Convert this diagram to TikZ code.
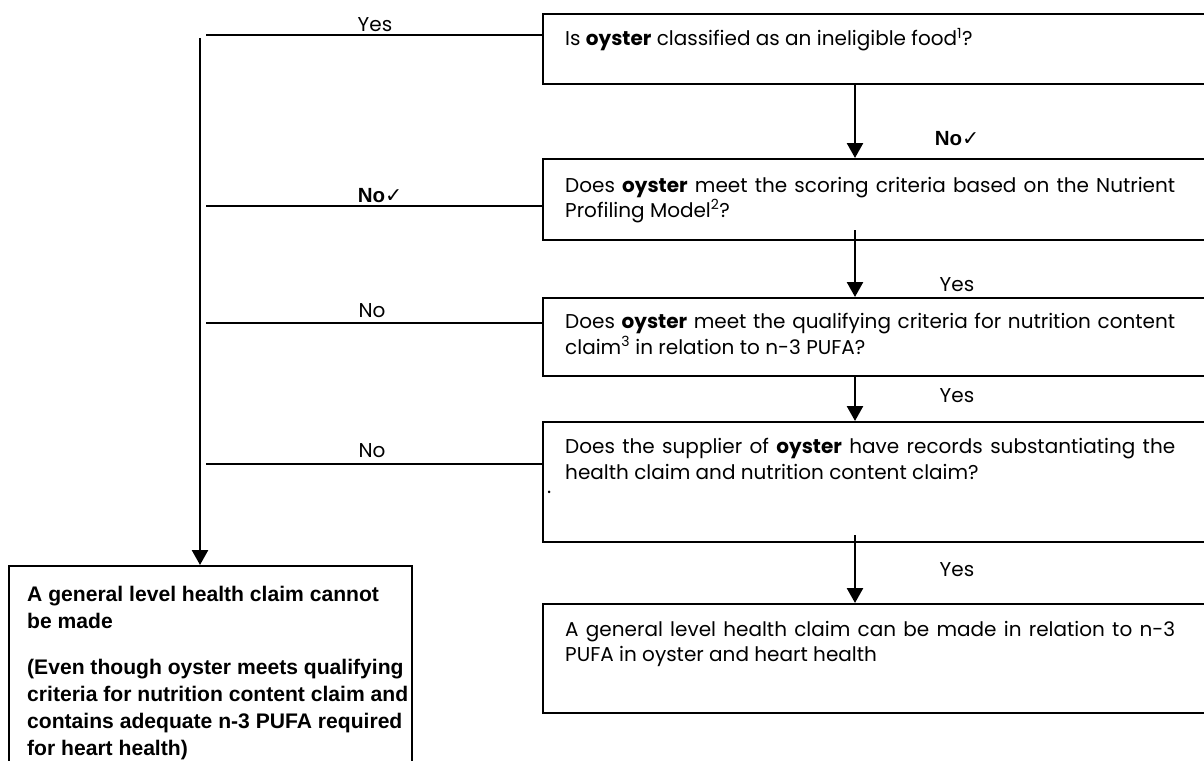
\documentclass[tikz,border=0pt]{standalone}
\usepackage{fontspec}
\setmainfont{Liberation Sans}
\newfontfamily\gothicfont{Poppins}
\newfontfamily\tickfont{DejaVu Sans}
\usetikzlibrary{arrows.meta}
\newcommand\tick{{\tickfont\char"2713}}
% first lines of the question texts are set justified to the text width
\newcommand\fullline[1]{\makebox[610bp][s]{#1}}
\begin{document}
\begin{tikzpicture}[x=1bp,y=-1bp,
  box/.style={draw,line width=1.9bp,anchor=north west,inner sep=0pt},
  link/.style={line width=1.6bp},
  flow/.style={line width=2.6bp,-{Triangle[length=15bp,width=16bp]}},
  qtext/.style={anchor=base west,inner sep=0pt,font=\gothicfont\fontsize{20bp}{24bp}\selectfont},
  lbl/.style={anchor=base,inner sep=0pt,font=\gothicfont\fontsize{20bp}{24bp}\selectfont},
  blbl/.style={anchor=base,inner sep=0pt,font=\bfseries\fontsize{20.5bp}{24bp}\selectfont},
  rtext/.style={anchor=base west,inner sep=0pt,font=\bfseries\fontsize{21.1bp}{27bp}\selectfont}]

\useasboundingbox (0,0) rectangle (1204,761);

% question boxes (right column runs past the page edge)
\node[box,minimum width=664bp,minimum height=70bp]  (q1) at (542,13)  {};
\node[box,minimum width=664bp,minimum height=81bp]  (q2) at (542,158) {};
\node[box,minimum width=664bp,minimum height=78bp]  (q3) at (542,297) {};
\node[box,minimum width=664bp,minimum height=120bp] (q4) at (542,421) {};
\node[box,minimum width=664bp,minimum height=109bp] (ok) at (542,603) {};
\node[box,minimum width=403bp,minimum height=210bp] (no) at (8,565)   {};

% box texts
\node[qtext] (q1a) at (565,46)  {Is \textbf{oyster} classified as an ineligible food\textsuperscript{1}?};
\node[qtext] (q2a) at (565,192) {\fullline{Does \textbf{oyster} meet the scoring criteria based on the Nutrient}};
\node[qtext] (q2b) at (565,217) {Profiling Model\textsuperscript{2}?};
\node[qtext] (q3a) at (565,328) {\fullline{Does \textbf{oyster} meet the qualifying criteria for nutrition content}};
\node[qtext] (q3b) at (565,354) {claim\textsuperscript{3} in relation to n-3 PUFA?};
\node[qtext] (q4a) at (565,453) {\fullline{Does the supplier of \textbf{oyster} have records substantiating the}};
\node[qtext] (q4b) at (565,479) {health claim and nutrition content claim?};
\node[qtext] (q4c) at (547,493) {.};
\node[qtext] (oka) at (565,636) {\fullline{A general level health claim can be made in relation to n-3}};
\node[qtext] (okb) at (565,661) {PUFA in oyster and heart health};

\node[rtext] (noa) at (27,601) {A general level health claim cannot};
\node[rtext] (nob) at (27,628) {be made};
\node[rtext] (noc) at (27,674) {(Even though oyster meets qualifying};
\node[rtext] (nod) at (27,701) {criteria for nutrition content claim and};
\node[rtext] (noe) at (27,728) {contains adequate n-3 PUFA required};
\node[rtext] (nof) at (27,755) {for heart health)};

% main column arrows
\coordinate (ax) at (855,0);
\coordinate (s2) at (855,230);
\coordinate (s4) at (855,535);
\draw[flow] (q1.south -| ax) -- (q2.north -| ax);
\draw[flow] (s2) -- (q3.north -| ax);
\draw[flow] (q3.south -| ax) -- (q4.north -| ax);
\draw[flow] (s4) -- (ok.north -| ax);

\node[blbl] (n1) at (957,145) {No\tick};
\node[lbl]  (y2) at (957,291) {Yes};
\node[lbl]  (y3) at (957,402) {Yes};
\node[lbl]  (y4) at (957,576) {Yes};

% rejection branch
\coordinate (top) at (200,38);
\draw[flow] (top) -- (no.north -| top);
\coordinate (j1) at (206,35);
\coordinate (j2) at (206,206);
\coordinate (j3) at (206,323);
\coordinate (j4) at (206,464);
\draw[link] (j1) -- (j1 -| q1.west);
\draw[link] (j2) -- (j2 -| q2.west);
\draw[link] (j3) -- (j3 -| q3.west);
\draw[link] (j4) -- (j4 -| q4.west);

\node[lbl]  (y1) at (375,32)  {Yes};
\node[blbl] (n2) at (380,202) {No\tick};
\node[lbl]  (n3) at (372,317) {No};
\node[lbl]  (n4) at (372,457) {No};
\end{tikzpicture}
\end{document}
